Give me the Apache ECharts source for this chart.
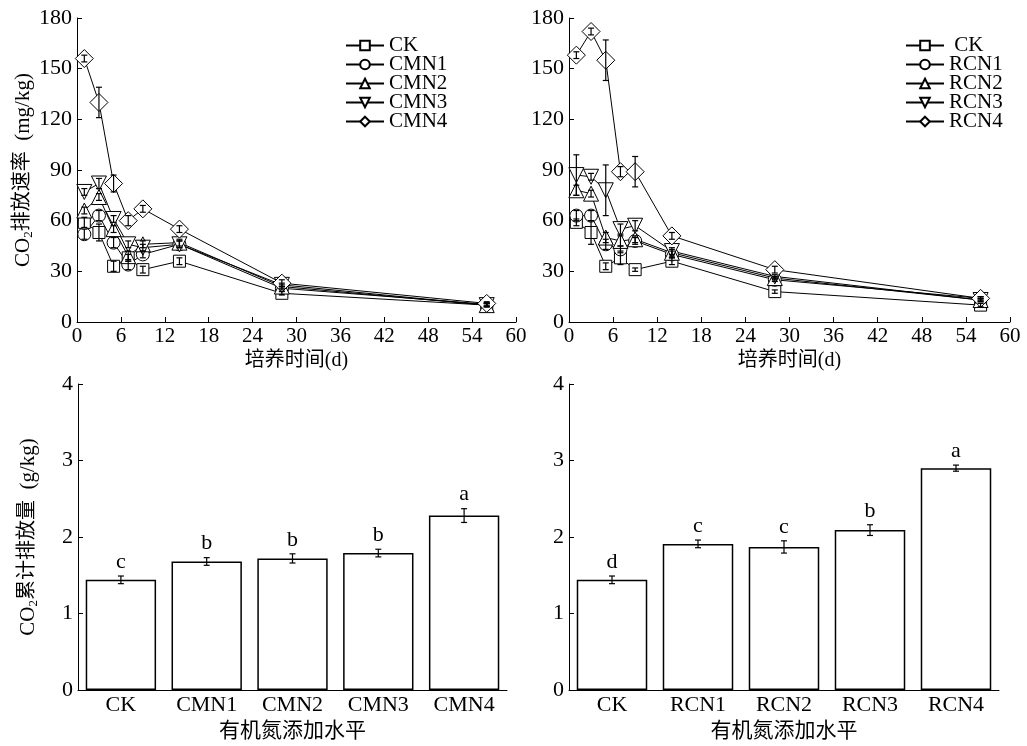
<!DOCTYPE html>
<html>
<head>
<meta charset="utf-8">
<script src="https://cdn.jsdelivr.net/npm/echarts@6/dist/echarts.min.js"></script>
<style>
  html, body { margin: 0; padding: 0; background: #fff; }
  #main { width: 1027px; height: 746px; }
</style>
</head>
<body>
<div id="main"></div>
<script>
var FONT = "'Liberation Serif', 'Times New Roman', 'Noto Sans CJK SC', serif";

// 培养时间 (d)
var days = [1, 3, 5, 7, 9, 14, 28, 56];

// CO2 排放速率 (mg/kg) - 左图
var leftNames = ['CK', 'CMN1', 'CMN2', 'CMN3', 'CMN4'];
var leftCK = [59, 53, 33, 38, 31, 36, 17, 10];
var leftCMN1 = [52, 63, 47, 34, 40, 46, 20, 10.5];
var leftCMN2 = [66, 74, 55, 39, 46, 47, 21, 10];
var leftCMN3 = [77, 82, 61, 46, 44, 46, 22, 10];
var leftCMN4 = [156, 130, 82, 60, 67, 55, 23, 11];
var leftErrCK = [3, 5, 3, 2, 2, 2, 1, 1];
var leftErrCMN1 = [3, 3, 3, 3, 2, 2, 1, 1];
var leftErrCMN2 = [2, 2, 2, 3, 2, 2, 1, 1];
var leftErrCMN3 = [2, 3, 2, 2, 2, 2, 1, 1];
var leftErrCMN4 = [2, 9, 5, 3, 2, 2, 2, 1];

// 右图
var rightNames = ['CK', 'RCN1', 'RCN2', 'RCN3', 'RCN4'];
var rightCK = [59, 53, 33, 38, 31, 36, 18, 10];
var rightRCN1 = [63, 63, 46, 43, 48, 40, 25, 14];
var rightRCN2 = [78, 76, 50, 48, 49, 41, 26, 13];
var rightRCN3 = [87, 86, 78, 55, 57, 42, 27, 13];
var rightRCN4 = [158, 172, 155, 89, 89, 51, 31, 14];
var rightErrCK = [2, 7, 2, 4, 1, 2, 1, 1];
var rightErrRCN1 = [3, 3, 3, 2, 2, 2, 1, 1];
var rightErrRCN2 = [3, 2, 3, 3, 2, 2, 1, 1];
var rightErrRCN3 = [12, 2, 15, 3, 3, 2, 1, 1];
var rightErrRCN4 = [2, 2, 12, 3, 9, 2, 2, 1];

// CO2 累计排放量 (g/kg)
var barLeftCats = ['CK', 'CMN1', 'CMN2', 'CMN3', 'CMN4'];
var barLeftVals = [1.44, 1.68, 1.72, 1.79, 2.28];
var barLeftErr = [0.05, 0.05, 0.06, 0.05, 0.09];
var barLeftLetters = ['c', 'b', 'b', 'b', 'a'];
var barRightCats = ['CK', 'RCN1', 'RCN2', 'RCN3', 'RCN4'];
var barRightVals = [1.44, 1.91, 1.87, 2.09, 2.90];
var barRightErr = [0.05, 0.05, 0.08, 0.07, 0.04];
var barRightLetters = ['d', 'c', 'c', 'b', 'a'];

var symbols = ['rect', 'circle', 'triangle', 'triangle', 'diamond'];
var symbolSizes = [12, 13, 15, 15, 18];
var symbolRotates = [0, 0, 0, 180, 0];

var chart = echarts.init(document.getElementById('main'));

function zipPoints(xs, ys, es) {
  var out = [];
  for (var i = 0; i < xs.length; i++) {
    out.push(es ? [xs[i], ys[i], es[i]] : [xs[i], ys[i]]);
  }
  return out;
}

function errorRender(letters) {
  return function (params, api) {
    var x = api.value(0), y = api.value(1), e = api.value(2);
    var hi = api.coord([x, y + e]);
    var lo = api.coord([x, y - e]);
    var cap = 3;
    var st = { stroke: '#000', lineWidth: 1.2 };
    var children = [
      { type: 'line', shape: { x1: hi[0], y1: hi[1], x2: lo[0], y2: lo[1] }, style: st },
      { type: 'line', shape: { x1: hi[0] - cap, y1: hi[1], x2: hi[0] + cap, y2: hi[1] }, style: st },
      { type: 'line', shape: { x1: lo[0] - cap, y1: lo[1], x2: lo[0] + cap, y2: lo[1] }, style: st }
    ];
    if (letters) {
      children.push({
        type: 'text',
        style: {
          text: letters[params.dataIndex],
          x: hi[0], y: hi[1] - 3,
          align: 'center', verticalAlign: 'bottom',
          font: '22px ' + FONT, fill: '#000'
        }
      });
    }
    return { type: 'group', children: children };
  };
}

function lineSeries(name, idx, ys, errs, k) {
  return [{
    name: name,
    type: 'line',
    xAxisIndex: idx, yAxisIndex: idx,
    data: zipPoints(days, ys),
    symbol: symbols[k],
    symbolSize: symbolSizes[k],
    symbolRotate: symbolRotates[k],
    showAllSymbol: true,
    lineStyle: { color: '#000', width: 1 },
    itemStyle: { color: '#fff', borderColor: '#000', borderWidth: 1 },
    z: 2,
    animation: false
  }, {
    type: 'custom',
    xAxisIndex: idx, yAxisIndex: idx,
    data: zipPoints(days, ys, errs),
    renderItem: errorRender(null),
    z: 3,
    silent: true,
    animation: false
  }];
}

var axisLineStyle = { show: true, lineStyle: { color: '#000', width: 1 } };
var tickStyle = { show: true, inside: true, length: 5, lineStyle: { color: '#000' } };
var labelStyle = { color: '#000', fontFamily: FONT, fontSize: 21 };

function timeXAxis(gi) {
  return {
    type: 'value', gridIndex: gi, min: 0, max: 60, interval: 6,
    name: '培养时间(d)', nameLocation: 'middle', nameGap: 29,
    nameTextStyle: { color: '#000', fontFamily: FONT, fontSize: 20 },
    axisLine: axisLineStyle, axisTick: tickStyle,
    axisLabel: Object.assign({ margin: 4 }, labelStyle),
    splitLine: { show: false }
  };
}

var richName = {
  t: { fontFamily: FONT, fontSize: 21, color: '#000' },
  c: { fontFamily: FONT, fontSize: 20, color: '#000' },
  s: { fontFamily: FONT, fontSize: 13, color: '#000', verticalAlign: 'bottom', padding: [11, 0, 0, 0] }
};

function rateYAxis(gi, withName) {
  return {
    type: 'value', gridIndex: gi, min: 0, max: 180, interval: 30,
    name: withName ? '{t|CO}{s|2}{c|排放速率}{t|  (mg/kg)}' : '',
    nameLocation: 'middle', nameGap: 38, nameRotate: 90,
    nameTextStyle: { rich: richName },
    axisLine: axisLineStyle, axisTick: tickStyle,
    axisLabel: Object.assign({ margin: 5 }, labelStyle, { fontSize: 22 }),
    splitLine: { show: false }
  };
}

function barXAxis(gi, cats) {
  return {
    type: 'category', gridIndex: gi, data: cats,
    name: '有机氮添加水平', nameLocation: 'middle', nameGap: 31,
    nameTextStyle: { color: '#000', fontFamily: FONT, fontSize: 21 },
    axisLine: axisLineStyle, axisTick: { show: false },
    axisLabel: Object.assign({ margin: 4 }, labelStyle, { fontSize: 22 })
  };
}

function barYAxis(gi, withName) {
  return {
    type: 'value', gridIndex: gi, min: 0, max: 4, interval: 1,
    name: withName ? '{t|CO}{s|2}{c|累计排放量}{t|  (g/kg)}' : '',
    nameLocation: 'middle', nameGap: 38, nameRotate: 90,
    nameTextStyle: { rich: richName },
    axisLine: axisLineStyle, axisTick: tickStyle,
    axisLabel: Object.assign({ margin: 5 }, labelStyle, { fontSize: 22 }),
    splitLine: { show: false }
  };
}

function barSeries(gi, vals, errs, letters) {
  var pts = [];
  for (var i = 0; i < vals.length; i++) pts.push([i, vals[i], errs[i]]);
  return [{
    type: 'bar', xAxisIndex: gi, yAxisIndex: gi,
    data: vals, barWidth: '82%',
    itemStyle: { color: '#fff', borderColor: '#000', borderWidth: 1.5 },
    animation: false
  }, {
    type: 'custom', xAxisIndex: gi, yAxisIndex: gi,
    data: pts, renderItem: errorRender(letters), z: 3, silent: true, animation: false
  }];
}

var series = [];
var leftSets = [leftCK, leftCMN1, leftCMN2, leftCMN3, leftCMN4];
var leftErrs = [leftErrCK, leftErrCMN1, leftErrCMN2, leftErrCMN3, leftErrCMN4];
var rightSets = [rightCK, rightRCN1, rightRCN2, rightRCN3, rightRCN4];
var rightErrs = [rightErrCK, rightErrRCN1, rightErrRCN2, rightErrRCN3, rightErrRCN4];
for (var k = 0; k < 5; k++) {
  series = series.concat(lineSeries(leftNames[k], 0, leftSets[k], leftErrs[k], k));
}
for (var k2 = 0; k2 < 5; k2++) {
  series = series.concat(lineSeries(rightNames[k2], 1, rightSets[k2], rightErrs[k2], k2));
}
series = series.concat(barSeries(2, barLeftVals, barLeftErr, barLeftLetters));
series = series.concat(barSeries(3, barRightVals, barRightErr, barRightLetters));

var legendText = { color: '#000', fontFamily: FONT, fontSize: 21 };

chart.setOption({
  backgroundColor: '#fff',
  animation: false,
  grid: [
    { left: 77, top: 18, width: 439, height: 304, outerBoundsMode: 'none' },
    { left: 569, top: 18, width: 441, height: 304, outerBoundsMode: 'none' },
    { left: 78, top: 384, width: 429, height: 306, outerBoundsMode: 'none' },
    { left: 569, top: 384, width: 430, height: 306, outerBoundsMode: 'none' }
  ],
  legend: [
    {
      data: leftNames, orient: 'vertical', left: 345, top: 35,
      itemWidth: 38, itemHeight: 12, itemGap: -2, padding: 0,
      textStyle: legendText, selectedMode: false
    },
    {
      data: rightNames, orient: 'vertical', left: 905, top: 35,
      itemWidth: 38, itemHeight: 12, itemGap: -2, padding: 0,
      textStyle: legendText, selectedMode: false,
      formatter: function (n) { return n === 'CK' ? ' CK' : n; }
    }
  ],
  xAxis: [timeXAxis(0), timeXAxis(1), barXAxis(2, barLeftCats), barXAxis(3, barRightCats)],
  yAxis: [rateYAxis(0, true), rateYAxis(1, false), barYAxis(2, true), barYAxis(3, false)],
  series: series
});
</script>
</body>
</html>
